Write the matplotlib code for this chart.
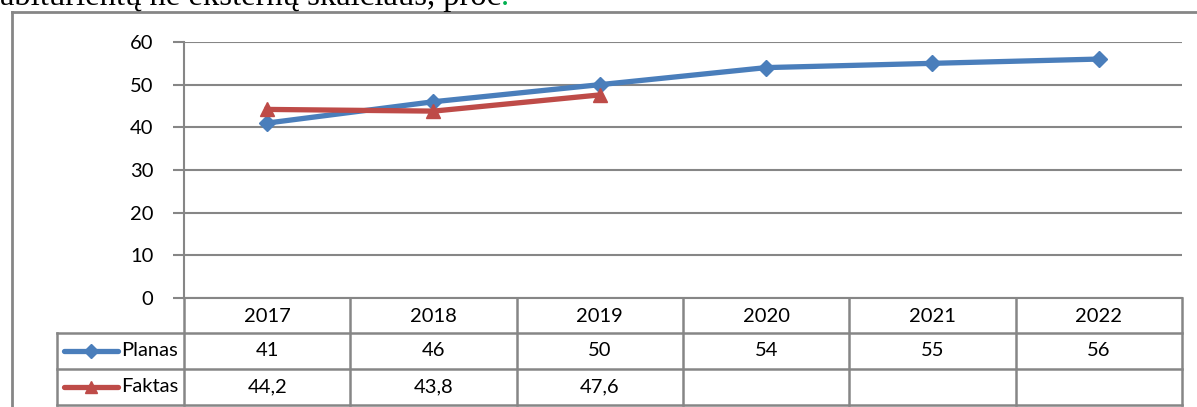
import numpy as np
import matplotlib.pyplot as plt
from matplotlib.lines import Line2D

years = ["2017", "2018", "2019", "2020", "2021", "2022"]
planas = [41, 46, 50, 54, 55, 56]
faktas = [44.2, 43.8, 47.6]
series_names = ["Planas", "Faktas"]
yticks = [0, 10, 20, 30, 40, 50, 60]
title_text = "abiturientų ne eksternų skaičiaus, proc"

W, H = 1197, 407
blue = "#4A7EBB"
red = "#BE4B48"
grid_c = "#868686"
font = "Lato"

fig = plt.figure(figsize=(W / 100, H / 100), dpi=100)

# plot area in pixels
left, right, top, bottom = 184, 1182, 42, 298
ax = fig.add_axes([left / W, 1 - bottom / H, (right - left) / W, (bottom - top) / H])
ax.set_xlim(-0.5, len(years) - 0.5)
ax.set_ylim(0, 60)
ax.set_yticks(yticks)
ax.set_yticklabels([str(v) for v in yticks], fontsize=14.5, family=font)
ax.set_xticks([])
ax.yaxis.grid(True, color=grid_c, lw=1.5)
ax.set_axisbelow(True)
for s in ["top", "right"]:
    ax.spines[s].set_visible(False)
for s in ["left", "bottom"]:
    ax.spines[s].set_color(grid_c)
    ax.spines[s].set_linewidth(1.5)
ax.tick_params(axis="y", length=8, width=1.5, color=grid_c, pad=14)

x = np.arange(len(years))
ax.plot(x, planas, color=blue, lw=3.8, marker="D", ms=8, zorder=3, clip_on=False)
ax.plot(x[:len(faktas)], faktas, color=red, lw=3.8, marker="^", ms=10, zorder=4, clip_on=False)


# data table below the axes
def yax(py):
    return (bottom - py) / (bottom - top)


def xd(px):
    return (px - left) / (right - left) * len(years) - 0.5


tr = ax.get_xaxis_transform()
row_y = [298, 333, 369, 405]
xl = xd(57)
lkw = dict(color=grid_c, lw=1.8, transform=tr, clip_on=False)
for py in row_y[1:]:
    ax.add_line(Line2D([xl, len(years) - 0.5], [yax(py)] * 2, **lkw))
for b in np.arange(len(years) + 1) - 0.5:
    ax.add_line(Line2D([b, b], [yax(298), yax(405)], **lkw))
ax.add_line(Line2D([xl, xl], [yax(333), yax(405)], **lkw))

tkw = dict(transform=tr, ha="center", va="center", fontsize=14.5, family=font, clip_on=False)
for i, yr in enumerate(years):
    ax.text(i, yax(316), yr, **tkw)
for i, v in enumerate(planas):
    ax.text(i, yax(351), str(v), **tkw)
for i, v in enumerate(faktas):
    ax.text(i, yax(387), str(v).replace(".", ","), **tkw)

# row headers with legend keys
for name, col, mk, ms, py in [(series_names[0], blue, "D", 7, 351), (series_names[1], red, "^", 9, 387)]:
    ax.add_line(Line2D([xd(64), xd(118)], [yax(py)] * 2, color=col, lw=3.8,
                       solid_capstyle="round", transform=tr, clip_on=False))
    ax.add_line(Line2D([xd(91)], [yax(py)], color=col, marker=mk, ms=ms, lw=0,
                       transform=tr, clip_on=False))
    ax.text(xd(121), yax(py), name, transform=tr, ha="left", va="center",
            fontsize=14.5, family=font, clip_on=False)

# outer chart frame
fig.add_artist(Line2D([12 / W, 12 / W], [0, 1 - 12 / H], color=grid_c, lw=2))
fig.add_artist(Line2D([12 / W, 1], [1 - 12 / H, 1 - 12 / H], color=grid_c, lw=2))

# cut-off caption above the chart (it is cropped in the source too)
t = fig.text(0 / W, 1 - 5 / H, title_text, fontsize=23.5, family="Liberation Serif",
             ha="left", va="baseline")
fig.canvas.draw()
bb = t.get_window_extent()
fig.text(bb.x1 / W, 1 - 5 / H, ".", fontsize=23.5, family="Liberation Serif",
         ha="left", va="baseline", color="#00B050")

fig.savefig("out.png", dpi=100)
